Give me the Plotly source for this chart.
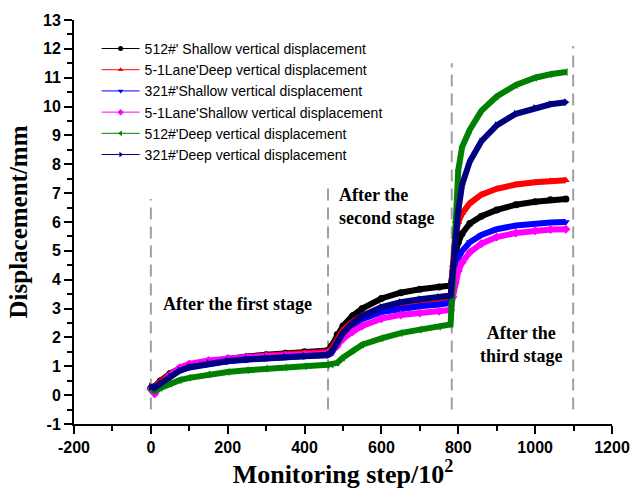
import plotly.graph_objects as go

# Monitoring steps (x 10^2) shared by all measuring points
steps = [0, 10, 25, 50, 75, 100, 150, 200, 250, 300, 350, 400, 460, 470, 485, 500,
         525, 550, 600, 650, 700, 750, 780, 786, 792, 800, 810, 830, 860, 900, 950,
         1000, 1040, 1080]

# Vertical displacement (mm) of each measuring point
shallow_512 = [0.25, 0.3, 0.5, 0.75, 0.92, 1.03, 1.17, 1.27, 1.34, 1.4, 1.45, 1.5, 1.55, 1.7, 2.1, 2.4,
               2.75, 3.0, 3.35, 3.55, 3.67, 3.75, 3.8, 4.3, 4.9, 5.3, 5.6, 5.95, 6.2, 6.42, 6.6,
               6.7, 6.77, 6.8]
deep_51lane = [0.25, 0.28, 0.47, 0.72, 0.9, 1.0, 1.14, 1.24, 1.31, 1.37, 1.42, 1.46, 1.5, 1.6, 1.95, 2.25,
               2.55, 2.75, 2.98, 3.1, 3.17, 3.23, 3.28, 4.5, 5.5, 6.0, 6.3, 6.65, 6.95, 7.15, 7.3,
               7.38, 7.43, 7.45]
shallow_321 = [0.22, 0.2, 0.4, 0.65, 0.85, 0.96, 1.09, 1.17, 1.23, 1.28, 1.32, 1.35, 1.38, 1.45, 1.8, 2.1,
               2.42, 2.63, 2.88, 3.0, 3.08, 3.14, 3.2, 3.9, 4.4, 4.75, 5.0, 5.3, 5.55, 5.75, 5.88,
               5.95, 5.98, 6.0]
shallow_51lane = [0.2, 0.05, 0.3, 0.7, 0.95, 1.08, 1.2, 1.27, 1.32, 1.35, 1.38, 1.41, 1.44, 1.5, 1.7, 1.95,
                  2.2, 2.4, 2.65, 2.78, 2.85, 2.91, 2.95, 3.4, 3.9, 4.3, 4.6, 4.95, 5.25, 5.48, 5.62,
                  5.7, 5.74, 5.75]
deep_512 = [0.2, 0.15, 0.25, 0.4, 0.52, 0.6, 0.72, 0.8, 0.86, 0.92, 0.96, 1.0, 1.05, 1.06, 1.12, 1.3,
            1.55, 1.75, 1.97, 2.15, 2.27, 2.37, 2.45, 4.0, 6.0, 7.8, 8.6, 9.2, 9.85, 10.35, 10.75,
            11.0, 11.12, 11.2]
deep_321 = [0.3, 0.25, 0.4, 0.65, 0.85, 0.97, 1.1, 1.18, 1.24, 1.29, 1.33, 1.36, 1.4, 1.5, 1.85, 2.15,
            2.5, 2.75, 3.05, 3.22, 3.32, 3.4, 3.45, 4.3, 5.3, 6.4, 7.3, 8.1, 8.8, 9.35, 9.75,
            9.95, 10.08, 10.15]

series_names = [
    "512#' Shallow vertical displacement",
    "5-1Lane'Deep vertical displacement",
    "321#'Shallow vertical displacement",
    "5-1Lane'Shallow vertical displacement",
    "512#'Deep vertical displacement",
    "321#'Deep vertical displacement",
]
series_values = [shallow_512, deep_51lane, shallow_321, shallow_51lane, deep_512, deep_321]
series_colors = ["#000000", "#ff0000", "#0000ff", "#ff00ff", "#008000", "#000080"]
series_symbols = ["circle", "triangle-up", "triangle-down", "diamond", "triangle-left", "triangle-right"]

# Axis ticks (plain hyphen for negatives)
x_ticks = [-200, 0, 200, 400, 600, 800, 1000, 1200]
x_tick_labels = ["-200", "0", "200", "400", "600", "800", "1000", "1200"]
y_ticks = list(range(-1, 14))
y_tick_labels = [str(v) for v in y_ticks]

# Stage boundaries (monitoring step) and the top of each dashed marker line
stage_bounds = [0, 461, 783, 1099]
stage_tops = [6.8, 7.3, 11.5, 12.1]
stage_bottom = -0.5

fig = go.Figure()

for name, vals, col, sym in zip(series_names, series_values, series_colors, series_symbols):
    fig.add_trace(go.Scatter(
        x=steps, y=vals, mode="lines+markers", showlegend=False,
        line=dict(color=col, width=6),
        marker=dict(symbol=sym, size=7, color=col),
    ))

# Legend entries drawn with thin lines and small markers
for name, col, sym in zip(series_names, series_colors, series_symbols):
    fig.add_trace(go.Scatter(
        x=[None], y=[None], mode="lines+markers", name=name,
        line=dict(color=col, width=1),
        marker=dict(symbol=sym, size=5, color=col),
    ))

for xb, top in zip(stage_bounds, stage_tops):
    fig.add_shape(type="line", x0=xb, x1=xb, y0=stage_bottom, y1=top,
                  xref="x", yref="y",
                  line=dict(color="#a0a0a0", width=2, dash="12px,7px"), layer="below")

fig.add_annotation(x=226, y=3.15, text="After the first stage",
                   showarrow=False, xanchor="center", yanchor="middle")
fig.add_annotation(x=484, y=6.55, text="After the<br>second stage",
                   showarrow=False, xanchor="left", yanchor="middle", align="left")
fig.add_annotation(x=964, y=1.75, text="After the<br>third stage",
                   showarrow=False, xanchor="center", yanchor="middle", align="center")
fig.update_annotations(font=dict(family="Liberation Serif", size=18, color="black", weight="bold"))

axis_common = dict(
    showline=True, linecolor="black", linewidth=2, showgrid=False, zeroline=False,
    ticks="outside", ticklen=8, tickwidth=2, tickcolor="black",
    tickfont=dict(family="Liberation Sans", size=16, color="black", weight="bold"),
    mirror=False,
)

fig.update_xaxes(
    range=[-200, 1200], tickvals=x_ticks, ticktext=x_tick_labels,
    minor=dict(dtick=100, tick0=0, ticks="outside", ticklen=5, tickwidth=2, tickcolor="black"),
    title=dict(text="Monitoring step/10<sup>2</sup>", standoff=8,
               font=dict(family="Liberation Serif", size=26, color="black", weight="bold")),
    **axis_common,
)
fig.update_yaxes(
    range=[-1, 13], tickvals=y_ticks, ticktext=y_tick_labels,
    minor=dict(dtick=0.5, tick0=0, ticks="outside", ticklen=5, tickwidth=2, tickcolor="black"),
    title=dict(text="Displacement/mm", standoff=8,
               font=dict(family="Liberation Serif", size=25, color="black", weight="bold")),
    **axis_common,
)

fig.update_layout(
    width=642, height=494,
    margin=dict(l=74, r=20, t=20, b=69),
    paper_bgcolor="white", plot_bgcolor="white",
    legend=dict(x=0.042, y=0.968, xanchor="left", yanchor="top",
                font=dict(family="Liberation Sans", size=14, color="black"),
                bgcolor="rgba(0,0,0,0)", tracegroupgap=0, itemwidth=38),
)

fig.write_html("out.html")
